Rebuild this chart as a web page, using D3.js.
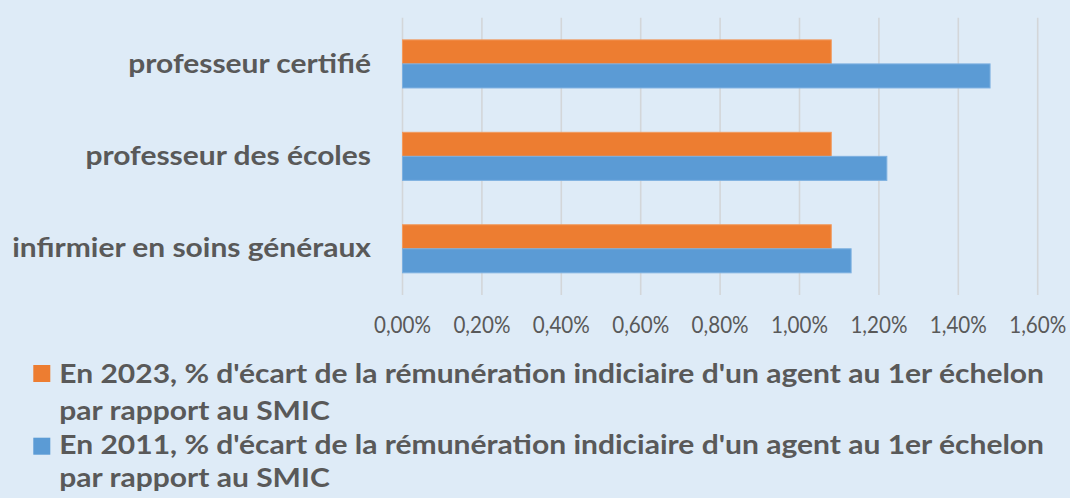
<!DOCTYPE html>
<html>
<head>
<meta charset="utf-8">
<script src="https://cdn.jsdelivr.net/npm/d3@7"></script>
<style>
  html, body { margin: 0; padding: 0; background: #DEEBF7; }
  svg { display: block; }
</style>
</head>
<body>
<svg id="chart" width="1070" height="498"></svg>
<script>
// ---- data ----
const categories = ["professeur certifié", "professeur des écoles", "infirmier en soins généraux"];
const seriesNames = ["2023", "2011"];
const values2023 = [1.08, 1.08, 1.08];
const values2011 = [1.48, 1.22, 1.13];
const tickValues = [0, 0.2, 0.4, 0.6, 0.8, 1.0, 1.2, 1.4, 1.6];
const legendLines = [
  ["En 2023, % d'écart de la rémunération indiciaire d'un agent au 1er échelon", "par rapport au SMIC"],
  ["En 2011, % d'écart de la rémunération indiciaire d'un agent au 1er échelon", "par rapport au SMIC"]
];
const colors = { "2023": "#ED7D31", "2011": "#5B9BD5" };
const strokes = { "2023": "#F19A5E", "2011": "#7DB0E0" };

// ---- layout ----
const W = 1070, H = 498;
const plot = { left: 402.5, right: 1037.7, top: 17.7, bottom: 295 };
const textColor = "#595959";
const font = "Lato, 'Open Sans', sans-serif";

const svg = d3.select("#chart");
svg.append("rect").attr("width", W).attr("height", H).attr("fill", "#DEEBF7");

const x = d3.scaleLinear().domain([0, 1.6]).range([plot.left, plot.right]);
const y = d3.scaleBand().domain(categories).range([plot.top, plot.bottom])
  .paddingInner(0.48).paddingOuter(0.24);
const ySub = d3.scaleBand().domain(seriesNames).range([0, y.bandwidth()]);

// gridlines
svg.append("g").selectAll("line").data(tickValues).join("line")
  .attr("x1", d => x(d)).attr("x2", d => x(d))
  .attr("y1", plot.top).attr("y2", plot.bottom)
  .attr("stroke", "#D3D6D9").attr("stroke-width", 1.6);

// bars
const rows = categories.map((c, i) => ({ cat: c, vals: [
  { s: "2023", v: values2023[i] }, { s: "2011", v: values2011[i] }] }));
const gBars = svg.append("g");
rows.forEach(r => {
  gBars.selectAll(null).data(r.vals).join("rect")
    .attr("x", x(0))
    .attr("y", d => y(r.cat) + ySub(d.s))
    .attr("width", d => x(d.v) - x(0))
    .attr("height", ySub.bandwidth())
    .attr("fill", d => colors[d.s])
    .attr("stroke", d => strokes[d.s])
    .attr("stroke-width", 1);
});

// helper to horizontally fit text groups
function fitGroup(sel, refNode, targetWidth) {
  const w = refNode.getComputedTextLength();
  const f = targetWidth / w;
  sel.each(function() {
    const t = d3.select(this);
    const tx = +t.attr("data-x"), ty = +t.attr("data-y");
    t.attr("transform", `translate(${tx},${ty}) scale(${f},1)`);
  });
}

// category labels
const catLabels = svg.append("g").selectAll("text").data(categories).join("text")
  .attr("data-x", 371)
  .attr("data-y", d => y(d) + y.bandwidth() / 2 + 8.7)
  .attr("text-anchor", "end")
  .attr("font-family", font).attr("font-weight", 700).attr("font-size", 26)
  .attr("fill", textColor)
  .text(d => d);
fitGroup(catLabels, catLabels.nodes()[2], 359);

// x axis tick labels
const fmt = d => d.toFixed(2).replace(".", ",") + "%";
const tickLabels = svg.append("g").selectAll("text").data(tickValues).join("text")
  .attr("data-x", d => x(d))
  .attr("data-y", 333.3)
  .attr("text-anchor", "middle")
  .attr("font-family", font).attr("font-size", 22.5)
  .attr("fill", textColor)
  .text(fmt);
fitGroup(tickLabels, tickLabels.nodes()[1], 57);

// legend
const legendSquares = [{ s: "2023", y: 365 }, { s: "2011", y: 437.7 }];
svg.append("g").selectAll("rect").data(legendSquares).join("rect")
  .attr("x", 33.3).attr("y", d => d.y).attr("width", 17).attr("height", 17)
  .attr("fill", d => colors[d.s]);

const baselines = [382.5, 420, 454.3, 487];
const legendText = [];
legendLines.forEach((lines, i) => lines.forEach((l, j) => legendText.push({ t: l, y: baselines[i * 2 + j] })));
const legLabels = svg.append("g").selectAll("text").data(legendText).join("text")
  .attr("data-x", 59.3)
  .attr("data-y", d => d.y)
  .attr("font-family", font).attr("font-weight", 700).attr("font-size", 26)
  .attr("fill", textColor)
  .text(d => d.t);
fitGroup(legLabels, legLabels.nodes()[0], 985);
</script>
</body>
</html>
